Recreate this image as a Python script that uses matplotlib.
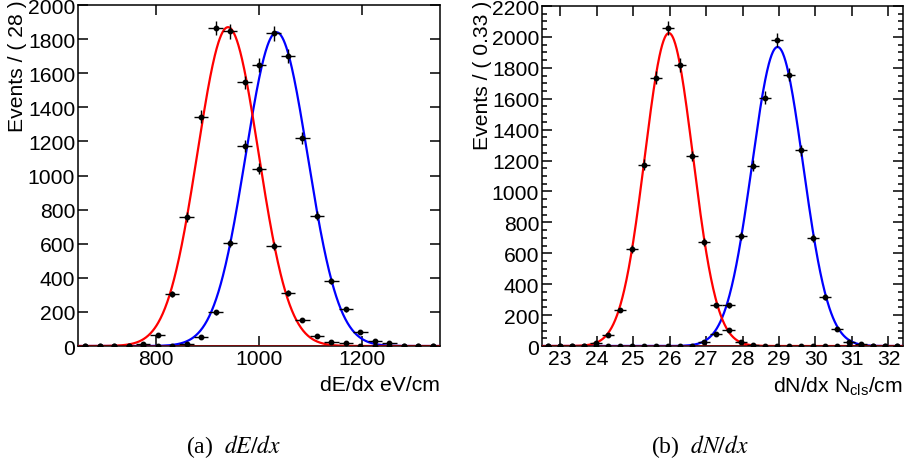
import numpy as np
import matplotlib

matplotlib.use("Agg")
import matplotlib.pyplot as plt
from matplotlib.ticker import MultipleLocator

# dE/dx panel: 25 bins of 28 eV/cm from 650 to 1350
DEDX_RANGE = (650.0, 1350.0)
DEDX_BIN_WIDTH = 28.0
DEDX_COUNTS_RED = [0, 0, 0, 1, 12, 65, 305, 757, 1346, 1865, 1845, 1546, 1041,
                   587, 309, 154, 57, 21, 15, 3, 0, 0, 0, 0, 0]
DEDX_COUNTS_BLUE = [0, 0, 0, 0, 0, 0, 2, 12, 50, 197, 605, 1174, 1650,
                    1834, 1699, 1219, 765, 382, 215, 84, 32, 16, 2, 0, 0]
# gaussian fits: (mean, sigma, peak height)
DEDX_FIT_RED = (940.0, 59.0, 1870.0)
DEDX_FIT_BLUE = (1034.0, 60.0, 1840.0)

# dN/dx panel: 30 bins of 0.33 clusters/cm from 22.5 to 32.4
DNDX_RANGE = (22.5, 32.4)
DNDX_BIN_WIDTH = 0.33
DNDX_COUNTS_RED = [0, 0, 0, 2, 22, 70, 233, 630, 1173, 1736, 2056, 1818, 1229,
                   671, 264, 103, 23, 4, 0, 0, 0, 0, 0, 0, 0, 0, 0, 0, 0, 0]
DNDX_COUNTS_BLUE = [0, 0, 0, 0, 0, 0, 0, 0, 0, 0, 0, 0, 3, 24, 78, 264, 714,
                    1167, 1607, 1982, 1754, 1266, 697, 317, 113, 28, 12, 2, 0, 0]
DNDX_FIT_RED = (25.98, 0.66, 2025.0)
DNDX_FIT_BLUE = (28.96, 0.70, 1935.0)

FONT = "Liberation Sans"
FS = 15.2

plt.rcParams["font.family"] = FONT
plt.rcParams["mathtext.fontset"] = "custom"
plt.rcParams["mathtext.rm"] = FONT
plt.rcParams["mathtext.it"] = FONT + ":italic"


def gauss(x, fit):
    mean, sigma, peak = fit
    return peak * np.exp(-0.5 * ((x - mean) / sigma) ** 2)


def draw_panel(ax, xrange, width, counts_pair, fits, ylim, xmajor, ymajor, yminor):
    lo, hi = xrange
    centers = lo + width / 2 + width * np.arange(len(counts_pair[0]))
    xs = np.linspace(lo, hi, 800)
    ax.plot(xs, gauss(xs, fits[1]), color="#0000ff", lw=1.6, zorder=3)
    ax.plot(xs, gauss(xs, fits[0]), color="#ff0000", lw=1.6, zorder=3)
    # both fit tails sit on the baseline and blend to a dark red there
    ax.axhline(0, color="#8b0000", lw=1.8, zorder=3.5)

    for counts in counts_pair:
        counts = np.asarray(counts, dtype=float)
        ax.errorbar(centers, counts, xerr=width / 2, yerr=np.sqrt(counts),
                    fmt="o", color="black", ms=3.2, elinewidth=1.0,
                    capsize=0, zorder=4)

    ax.set_xlim(lo, hi)
    ax.set_ylim(*ylim)
    ax.xaxis.set_major_locator(MultipleLocator(xmajor))
    ax.yaxis.set_major_locator(MultipleLocator(ymajor))
    if yminor:
        ax.yaxis.set_minor_locator(MultipleLocator(yminor))
    ax.tick_params(which="both", direction="in", top=True, right=True,
                   width=1.1, labelsize=FS, pad=2)
    ax.tick_params(which="major", length=7.5)
    ax.tick_params(which="minor", length=3.8)
    for sp in ax.spines.values():
        sp.set_linewidth(1.1)


fig = plt.figure(figsize=(9.06, 4.77), dpi=100)
ax1 = fig.add_axes([0.0861, 0.2725, 0.3996, 0.7149])
ax2 = fig.add_axes([0.5982, 0.2725, 0.3985, 0.7128])

draw_panel(ax1, DEDX_RANGE, DEDX_BIN_WIDTH, (DEDX_COUNTS_RED, DEDX_COUNTS_BLUE),
           (DEDX_FIT_RED, DEDX_FIT_BLUE), (0, 2000), 200, 200, None)
draw_panel(ax2, DNDX_RANGE, DNDX_BIN_WIDTH, (DNDX_COUNTS_RED, DNDX_COUNTS_BLUE),
           (DNDX_FIT_RED, DNDX_FIT_BLUE), (0, 2200), 1, 200, 50)

# first x axis has labels only at 800, 1000, 1200
ax1.set_xticks([800, 1000, 1200])

ax1.text(1.0, -0.085, "dE/dx eV/cm", transform=ax1.transAxes,
         ha="right", va="top", fontsize=FS)
ax2.text(1.0, -0.085, r"dN/dx N$_{\mathrm{cls}}$/cm", transform=ax2.transAxes,
         ha="right", va="top", fontsize=FS)

fig.text(18 / 906, 0.999, "Events / ( 28 )", rotation=90, ha="center",
         va="top", fontsize=FS)
fig.text(483 / 906, 0.999, "Events / ( 0.33 )", rotation=90, ha="center",
         va="top", fontsize=FS)

fig.text(234 / 906, 1 - 447 / 477, r"(a)  $dE/dx$", ha="center", va="center",
         fontsize=17, family="Liberation Serif", math_fontfamily="stix")
fig.text(700 / 906, 1 - 447 / 477, r"(b)  $dN/dx$", ha="center", va="center",
         fontsize=17, family="Liberation Serif", math_fontfamily="stix")

fig.savefig("out.png", dpi=100)
